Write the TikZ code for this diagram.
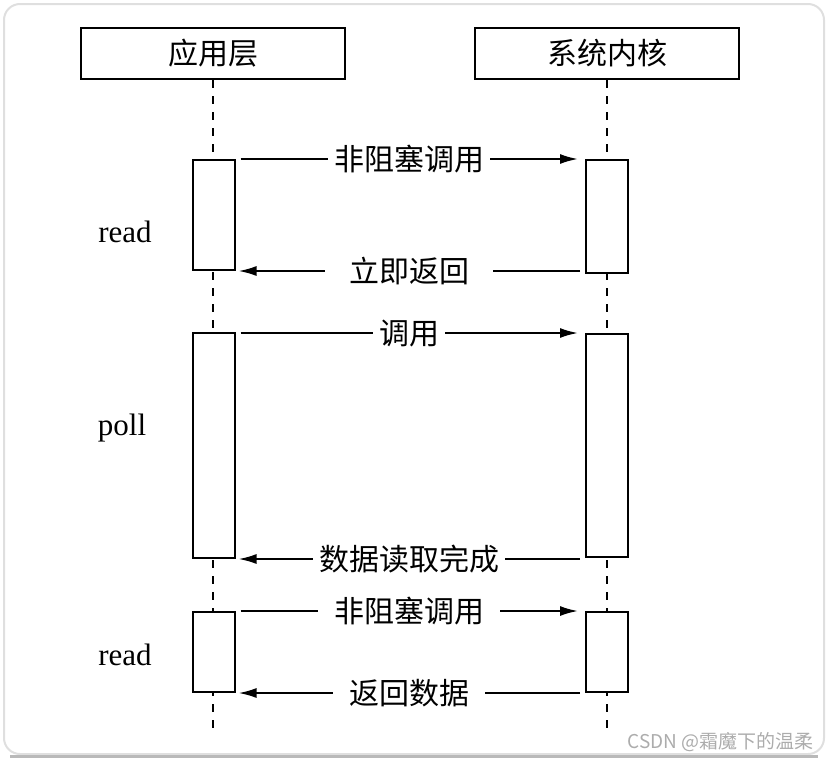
\documentclass[tikz,border=0pt]{standalone}
\usepackage{fontspec}
\setmainfont{Liberation Serif}
\newfontfamily\cjk{Noto Sans CJK SC}
\usepackage{tikz}
\usetikzlibrary{arrows.meta,positioning,calc}
\pgfdeclarelayer{bg}
\pgfsetlayers{bg,main}

\tikzset{
    party/.style={draw, line width=1pt, minimum width=132pt, minimum height=25.5pt, font=\cjk\fontsize{15}{15}\selectfont},
    act/.style={draw, fill=white, line width=1pt, minimum width=21pt, inner sep=0pt},
    life/.style={dash pattern=on 4pt off 4pt, line width=0.8pt},
    msg/.style={line width=1pt, -{Latex[length=9pt,width=5pt]}},
    lbl/.style={fill=white, inner xsep=3pt, font=\cjk\fontsize{15}{15}\selectfont},
    op/.style={font=\fontsize{15.5}{15.5}\selectfont}
}

\begin{document}
\begin{tikzpicture}[x=0.5pt, y=-0.5pt]
    \useasboundingbox (0,0) rectangle (828,760);
    % frame
    \draw[gray!25, line width=1pt, rounded corners=8pt] (4,4) rectangle (824,754);
    \draw[gray!55, line width=1.5pt] (10,756) -- (818,756);

    \node [party] (app) at (213,53.5) {应用层};
    \node [party] (kern) at (607,53.5) {系统内核};
    \coordinate (append) at (213,730);
    \coordinate (kernend) at (607,730);

    \node [act, minimum height=55pt] (la1) at (213.5,215) {};
    \node [act, minimum height=112.5pt] (la2) at (213.5,445.5) {};
    \node [act, minimum height=40pt] (la3) at (213.5,652) {};
    \node [act, minimum height=56.5pt] (ra1) at (607,216.5) {};
    \node [act, minimum height=111.5pt] (ra2) at (607,445.5) {};
    \node [act, minimum height=40pt] (ra3) at (607,652) {};

    \node [op] (read1) at (125,232) {read};
    \node [op] (poll) at (122,428) {poll};
    \node [op] (read2) at (125,655) {read};

    \draw[msg] ($(la1.north east)+(2.5pt,0)$) -- node[lbl] {非阻塞调用} ($(ra1.north west)+(-3.5pt,0)$);
    \draw[msg] ($(ra1.west |- la1.south)+(-2.5pt,0)$) -- node[lbl, inner xsep=12pt] {立即返回} ($(la1.south east)+(1.5pt,0)$);
    \draw[msg] ($(la2.east |- ra2.north)+(2.5pt,0)$) -- node[lbl] {调用} ($(ra2.north west)+(-3.5pt,0)$);
    \draw[msg] ($(ra2.west |- la2.south)+(-2.5pt,0)$) -- node[lbl] {数据读取完成} ($(la2.south east)+(1.5pt,0)$);
    \draw[msg] ($(la3.north east)+(2.5pt,0)$) -- node[lbl, inner xsep=8pt] {非阻塞调用} ($(ra3.north west)+(-3.5pt,0)$);
    \draw[msg] ($(ra3.south west)+(-2.5pt,0)$) -- node[lbl, inner xsep=8pt] {返回数据} ($(la3.south east)+(1.5pt,0)$);

    \node [anchor=east, text=gray!65, font=\cjk\fontsize{9.5}{9.5}\selectfont] (mark) at (821,742) {CSDN @霜魔下的温柔};

    \begin{pgfonlayer}{bg}
        \draw[life] (app.south) -- (append);
        \draw[life] (kern.south) -- (kernend);
    \end{pgfonlayer}
\end{tikzpicture}
\end{document}
